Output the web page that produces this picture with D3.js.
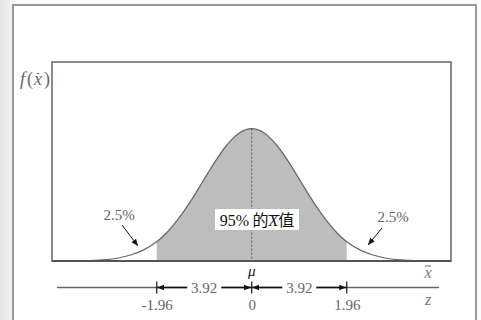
<!DOCTYPE html>
<html>
<head>
<meta charset="utf-8">
<script src="https://cdn.jsdelivr.net/npm/d3@7"></script>
<style>
  body { margin: 0; background: #fff; }
  svg { display: block; }
</style>
</head>
<body>
<svg id="chart" width="481" height="320"></svg>
<script>
// standard normal curve (z, height)
const zPoints = [-3.5, -3.25, -3, -2.75, -2.5, -2.25, -1.96, -1.75, -1.5, -1.25, -1, -0.75, -0.5, -0.25, 0,
                 0.25, 0.5, 0.75, 1, 1.25, 1.5, 1.75, 1.96, 2.25, 2.5, 2.75, 3, 3.25, 3.5];
const density = [0.001, 0.002, 0.004, 0.009, 0.018, 0.032, 0.058, 0.086, 0.130, 0.183, 0.242, 0.301, 0.352, 0.387, 0.399,
                 0.387, 0.352, 0.301, 0.242, 0.183, 0.130, 0.086, 0.058, 0.032, 0.018, 0.009, 0.004, 0.002, 0.001];
const zTicks = [-1.96, 0, 1.96];
const zTickLabels = ["-1.96", "0", "1.96"];
const spanLabels = ["3.92", "3.92"];
const tailLabels = ["2.5%", "2.5%"];
const centerLabel = "95%";

const data = zPoints.map((z, i) => ({ z: z, d: density[i] }));

const svg = d3.select("#chart");
const serif = "'Liberation Serif', 'Times New Roman', serif";

const plot = { left: 52, right: 451, top: 62, bottom: 261 };

let xScale = d3.scaleLinear().domain([-4.12, 4.11]).range([plot.left, plot.right]);
let yScale = d3.scaleLinear().domain([0, 0.6]).range([plot.bottom, plot.top]);

// page background: grey strip on the left, framed panel
const defs = svg.append("defs");
const grad = defs.append("linearGradient").attr("id", "strip");
grad.append("stop").attr("offset", "0%").attr("stop-color", "#e4e4e4");
grad.append("stop").attr("offset", "100%").attr("stop-color", "#f3f3f3");

svg.append("rect").attr("width", 481).attr("height", 320).attr("fill", "#fafafa");
svg.append("rect").attr("width", 13).attr("height", 320).attr("fill", "url(#strip)");
svg.append("rect")
    .attr("x", 13).attr("y", 5).attr("width", 463).attr("height", 330)
    .attr("fill", "#fff").attr("stroke", "#999").attr("stroke-width", 2);

["arrowEnd", "arrowStart"].forEach(function (id) {
    defs.append("marker")
        .attr("id", id)
        .attr("viewBox", "0 0 10 10")
        .attr("refX", 10).attr("refY", 5)
        .attr("markerWidth", 7).attr("markerHeight", 7)
        .attr("markerUnits", "userSpaceOnUse")
        .attr("orient", id === "arrowEnd" ? "auto" : "auto-start-reverse")
        .append("path")
        .attr("d", "M0,1 L10,5 L0,9 Z")
        .attr("fill", "#111");
});

// plot box
svg.append("rect")
    .attr("x", plot.left).attr("y", plot.top)
    .attr("width", plot.right - plot.left).attr("height", plot.bottom - plot.top)
    .attr("fill", "#fff").attr("stroke", "#666").attr("stroke-width", 1.5);

// shaded 95% area
const inner = data.filter(d => d.z >= -1.96 && d.z <= 1.96);
const area = d3.area()
    .x(d => xScale(d.z))
    .y0(yScale(0))
    .y1(d => yScale(d.d))
    .curve(d3.curveCatmullRom);

svg.append("path")
    .datum(inner)
    .attr("fill", "#bdbdbd")
    .attr("d", area);

// curve
const line = d3.line()
    .x(d => xScale(d.z))
    .y(d => yScale(d.d))
    .curve(d3.curveCatmullRom);

svg.append("path")
    .datum(data)
    .attr("fill", "none")
    .attr("stroke", "#666")
    .attr("stroke-width", 1.2)
    .attr("d", line);

// mean line
svg.append("line")
    .attr("x1", xScale(0)).attr("x2", xScale(0))
    .attr("y1", yScale(0.399)).attr("y2", yScale(0))
    .attr("stroke", "#555").attr("stroke-width", 1)
    .attr("stroke-dasharray", "2,2");

// baseline
svg.append("line")
    .attr("x1", plot.left).attr("x2", plot.right)
    .attr("y1", plot.bottom).attr("y2", plot.bottom)
    .attr("stroke", "#555").attr("stroke-width", 2);

// centre label
const box = svg.append("g");
box.append("rect")
    .attr("x", 215).attr("y", 209).attr("width", 84).attr("height", 21)
    .attr("fill", "#fff");
const cText = box.append("text")
    .attr("x", 257).attr("y", 225.5)
    .attr("text-anchor", "middle")
    .style("font-size", "16px")
    .attr("fill", "#111");
cText.append("tspan").style("font-family", serif).text(centerLabel);
cText.append("tspan").style("font-family", "Noto Sans CJK SC").text(" 的");
const xT = cText.append("tspan").style("font-family", serif).style("font-style", "italic").text("X");
cText.append("tspan").style("font-family", "Noto Sans CJK SC").text("值");
const xb = xT.node().getBBox();
box.append("line")
    .attr("x1", xb.x + 1).attr("x2", xb.x + xb.width)
    .attr("y1", 215.5).attr("y2", 215.5)
    .attr("stroke", "#111").attr("stroke-width", 1);

// tail labels and arrows
svg.append("text")
    .attr("x", 119).attr("y", 220)
    .attr("text-anchor", "middle")
    .style("font-family", serif).style("font-size", "15px")
    .attr("fill", "#666").text(tailLabels[0]);
svg.append("line")
    .attr("x1", 122).attr("y1", 225).attr("x2", 138).attr("y2", 246)
    .attr("stroke", "#111").attr("stroke-width", 1)
    .attr("marker-end", "url(#arrowEnd)");

svg.append("text")
    .attr("x", 393).attr("y", 222)
    .attr("text-anchor", "middle")
    .style("font-family", serif).style("font-size", "15px")
    .attr("fill", "#666").text(tailLabels[1]);
svg.append("line")
    .attr("x1", 382).attr("y1", 228).attr("x2", 368).attr("y2", 245)
    .attr("stroke", "#111").attr("stroke-width", 1)
    .attr("marker-end", "url(#arrowEnd)");

// y label f(x̄)
const fy = svg.append("text")
    .attr("x", 20).attr("y", 85)
    .style("font-family", serif).style("font-size", "18px")
    .attr("fill", "#666");
fy.append("tspan").style("font-style", "italic").text("f");
fy.append("tspan").attr("dx", 2).text("(");
const fx = fy.append("tspan").style("font-style", "italic").attr("dx", 1).text("x");
fy.append("tspan").attr("dx", 2).text(")");
const fb = fx.node().getBBox();
svg.append("line")
    .attr("x1", fb.x + fb.width / 2 - 1).attr("x2", fb.x + fb.width / 2 + 2)
    .attr("y1", 73.5).attr("y2", 73.5)
    .attr("stroke", "#666").attr("stroke-width", 1);

// mu and x-bar labels
svg.append("text")
    .attr("x", xScale(0)).attr("y", 276)
    .attr("text-anchor", "middle")
    .style("font-family", serif).style("font-size", "15px")
    .style("font-style", "italic")
    .attr("fill", "#111").text("μ");

svg.append("text")
    .attr("x", 428).attr("y", 278)
    .attr("text-anchor", "middle")
    .style("font-family", serif).style("font-size", "16px")
    .style("font-style", "italic")
    .attr("fill", "#777").text("x");
svg.append("line")
    .attr("x1", 425).attr("x2", 431).attr("y1", 266).attr("y2", 266)
    .attr("stroke", "#777").attr("stroke-width", 1);

// z axis
const zY = 287.5;
svg.append("line")
    .attr("x1", 57).attr("x2", 439).attr("y1", zY).attr("y2", zY)
    .attr("stroke", "#666").attr("stroke-width", 1.5);

svg.append("g")
    .attr("transform", "translate(0," + zY + ")")
    .call(d3.axisBottom(xScale).tickValues(zTicks).tickSize(0).tickFormat((d, i) => zTickLabels[i]))
    .call(g => g.select(".domain").remove())
    .call(g => g.selectAll("text")
        .attr("y", 22)
        .attr("dy", 0)
        .style("font-family", serif).style("font-size", "15px")
        .attr("fill", "#666"));

svg.selectAll(".ztick")
    .data(zTicks)
    .join("line")
    .attr("class", "ztick")
    .attr("x1", d => xScale(d)).attr("x2", d => xScale(d))
    .attr("y1", zY - 6).attr("y2", zY + 6)
    .attr("stroke", "#111").attr("stroke-width", 1.2);

// dimension segments between ticks
const spans = [[zTicks[0], zTicks[1]], [zTicks[1], zTicks[2]]];
spans.forEach(function (s, i) {
    const a = xScale(s[0]), b = xScale(s[1]), m = (a + b) / 2;
    svg.append("line")
        .attr("x1", a + 0.6).attr("x2", b - 0.6).attr("y1", zY).attr("y2", zY)
        .attr("stroke", "#111").attr("stroke-width", 1.6)
        .attr("marker-start", "url(#arrowStart)")
        .attr("marker-end", "url(#arrowEnd)");
    svg.append("rect")
        .attr("x", m - 17).attr("y", zY - 8).attr("width", 34).attr("height", 16)
        .attr("fill", "#fff");
    svg.append("text")
        .attr("x", m).attr("y", zY + 5)
        .attr("text-anchor", "middle")
        .style("font-family", serif).style("font-size", "15px")
        .attr("fill", "#666").text(spanLabels[i]);
});

svg.append("text")
    .attr("x", 428).attr("y", 305)
    .attr("text-anchor", "middle")
    .style("font-family", serif).style("font-size", "16px")
    .style("font-style", "italic")
    .attr("fill", "#777").text("z");
</script>
</body>
</html>
